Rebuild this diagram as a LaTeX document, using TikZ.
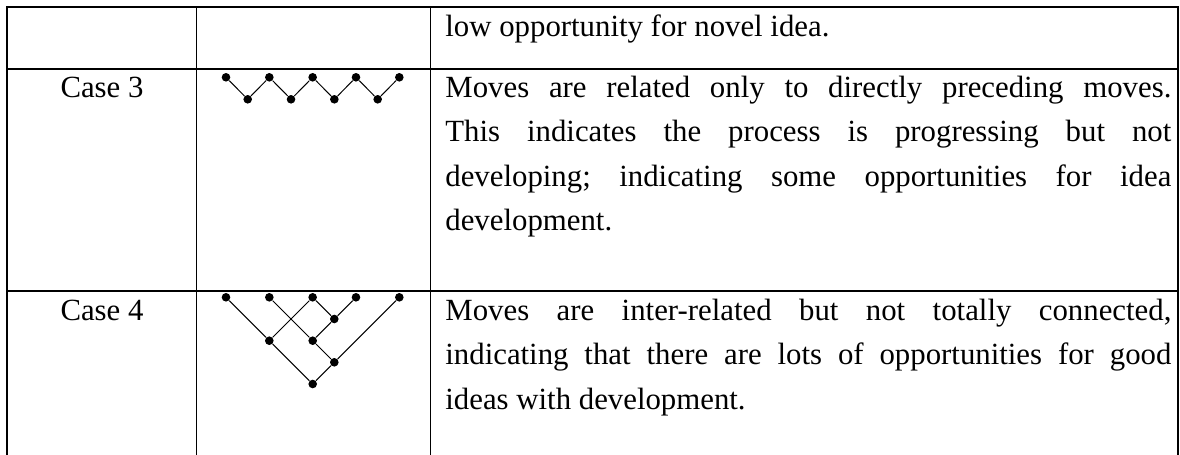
\documentclass[tikz,border=0pt]{standalone}
\usepackage{fontspec}
\setmainfont{Liberation Serif}
\newcommand{\JustLine}[1]{\makebox[363pt][s]{#1}}
\frenchspacing
\begin{document}
\begin{tikzpicture}[x=0.5pt,y=-0.5pt,
  rule/.style={line width=0.75pt,line cap=rect},
  dot/.style={circle,fill=black,draw=none,inner sep=0pt,minimum size=4.3pt},
  link/.style={line width=0.5pt},
  txt/.style={anchor=base west,inner sep=0pt,font=\fontsize{15.4}{22}\selectfont},
  cse/.style={anchor=base,inner sep=0pt,font=\fontsize{15.4}{22}\selectfont}]
\useasboundingbox (0,0) rectangle (1180,455);
% table rules
\draw[rule] (7,460) -- (7,7) -- (1178,7) -- (1178,460);
\draw[rule] (196.5,7) -- (196.5,460);
\draw[rule] (430.5,7) -- (430.5,460);
\draw[rule] (7,69) -- (1178,69);
\draw[rule] (7,291) -- (1178,291);
% row 1
\node[txt] (r1a) at (445,37) {low opportunity for novel idea.};
% row 2
\node[cse] (c3) at (102,97.3) {Case 3};
\node[txt] (r2a) at (445,97.3) {\JustLine{Moves are related only to directly preceding moves.}};
\node[txt] (r2b) at (445,141.7) {\JustLine{This indicates the process is progressing but not}};
\node[txt] (r2c) at (445,186) {\JustLine{developing; indicating some opportunities for idea}};
\node[txt] (r2d) at (445,230.3) {development.};
% row 3
\node[cse] (c4) at (102,320) {Case 4};
\node[txt] (r3a) at (445,320) {\JustLine{Moves are inter-related but not totally connected,}};
\node[txt] (r3b) at (445,364.5) {\JustLine{indicating that there are lots of opportunities for good}};
\node[txt] (r3c) at (445,409) {ideas with development.};
% case 3 diagram
\foreach \i in {0,...,4} \node[dot] (t\i) at ({226+43.33*\i},77.3) {};
\foreach \i in {0,...,3} \node[dot] (b\i) at ({247.7+43.33*\i},99.3) {};
\foreach \i [evaluate=\i as \j using int(\i+1)] in {0,...,3} {
  \draw[link] (t\i) -- (b\i);
  \draw[link] (b\i) -- (t\j);
}
% case 4 diagram
\foreach \i in {0,...,4} \node[dot] (u\i) at ({226+43.33*\i},297.3) {};
\node[dot] (p) at (334.3,319) {};
\node[dot] (q1) at (269.3,340.7) {};
\node[dot] (q2) at (312.7,340.7) {};
\node[dot] (r) at (334.3,362.3) {};
\node[dot] (s) at (312.7,384) {};
\draw[link] (u0) -- (q1);
\draw[link] (q1) -- (s);
\draw[link] (u1) -- (q2);
\draw[link] (q2) -- (r);
\draw[link] (u2) -- (q1);
\draw[link] (u2) -- (p);
\draw[link] (u3) -- (p);
\draw[link] (p) -- (q2);
\draw[link] (u4) -- (r);
\draw[link] (r) -- (s);
\end{tikzpicture}
\end{document}
